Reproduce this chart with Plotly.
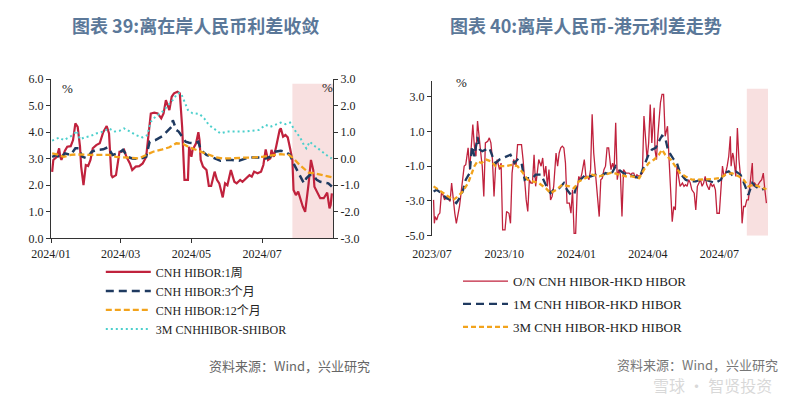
import plotly.graph_objects as go

# ---------------- Left chart data ----------------
l_1w_dates = ["2024-01-02","2024-01-03","2024-01-06","2024-01-08","2024-01-09","2024-01-10","2024-01-13","2024-01-15","2024-01-18","2024-01-20",
              "2024-01-22","2024-01-24","2024-01-26","2024-01-27","2024-01-29","2024-01-31","2024-02-02","2024-02-04","2024-02-06","2024-02-09",
              "2024-02-12","2024-02-15","2024-02-18","2024-02-20","2024-02-22","2024-02-23","2024-02-26","2024-02-28","2024-02-29","2024-03-02",
              "2024-03-04","2024-03-06","2024-03-09","2024-03-11","2024-03-14","2024-03-17","2024-03-20","2024-03-23","2024-03-25","2024-03-27",
              "2024-03-30","2024-04-02","2024-04-05","2024-04-07","2024-04-09","2024-04-12","2024-04-14","2024-04-16","2024-04-19","2024-04-21",
              "2024-04-23","2024-04-25","2024-04-28","2024-04-29","2024-05-01","2024-05-02","2024-05-05","2024-05-07","2024-05-08","2024-05-09",
              "2024-05-11","2024-05-14","2024-05-16","2024-05-18","2024-05-21","2024-05-23","2024-05-25","2024-05-28","2024-05-30","2024-06-01",
              "2024-06-04","2024-06-07","2024-06-09","2024-06-12","2024-06-14","2024-06-17","2024-06-20","2024-06-22","2024-06-24","2024-06-27",
              "2024-06-30","2024-07-02","2024-07-04","2024-07-06","2024-07-08","2024-07-09","2024-07-11","2024-07-13","2024-07-16","2024-07-17",
              "2024-07-19","2024-07-21","2024-07-23","2024-07-25","2024-07-27","2024-07-28","2024-07-30","2024-08-01","2024-08-03","2024-08-05",
              "2024-08-07","2024-08-09","2024-08-10","2024-08-12","2024-08-14","2024-08-15","2024-08-17","2024-08-20","2024-08-23","2024-08-26",
              "2024-08-28","2024-08-29","2024-08-30"]
l_1w_vals = [2.5,2.95,3.07,3.39,3.07,2.95,3.3,3.45,3.47,3.7,
             4.33,4.2,3.45,2.7,2.0,2.76,2.72,2.95,3.39,3.51,
             3.58,4.0,4.23,3.95,2.38,2.3,2.38,3.07,3.26,3.26,
             3.33,3.07,2.82,2.57,2.7,2.72,2.82,3.07,3.83,4.7,
             4.73,4.7,4.52,4.7,5.2,4.83,5.33,5.46,5.52,5.46,
             4.2,2.2,2.2,3.45,3.07,3.33,3.58,4.0,3.7,2.95,
             2.7,2.57,1.97,1.97,2.51,2.2,2.07,1.54,2.07,2.0,
             2.57,2.13,2.07,2.2,2.13,2.26,2.38,2.32,2.51,2.45,
             2.51,2.76,3.35,2.95,3.01,3.33,3.07,3.45,4.08,4.14,
             3.83,3.89,3.8,3.39,2.95,1.82,1.63,1.76,1.44,1.19,
             1.0,1.69,2.07,2.95,2.57,1.94,1.76,1.51,1.51,1.72,
             1.13,1.25,1.69]

l_3m_dates = ["2024-01-02","2024-01-06","2024-01-09","2024-01-13","2024-01-18","2024-01-22","2024-01-25","2024-01-28","2024-02-01","2024-02-05",
              "2024-02-09","2024-02-15","2024-02-19","2024-02-23","2024-02-28","2024-03-03","2024-03-07","2024-03-11","2024-03-17","2024-03-23",
              "2024-03-26","2024-03-31","2024-04-06","2024-04-10","2024-04-14","2024-04-15","2024-04-18","2024-04-20","2024-04-23","2024-04-26",
              "2024-04-29","2024-05-04","2024-05-07","2024-05-09","2024-05-14","2024-05-18","2024-05-22","2024-05-26","2024-05-31","2024-06-05",
              "2024-06-11","2024-06-17","2024-06-22","2024-06-28","2024-07-04","2024-07-08","2024-07-12","2024-07-17","2024-07-21","2024-07-25",
              "2024-07-28","2024-07-31","2024-08-03","2024-08-06","2024-08-08","2024-08-11","2024-08-14","2024-08-17","2024-08-20","2024-08-23",
              "2024-08-27","2024-08-30"]
l_3m_vals = [3.07,3.14,3.01,3.2,3.14,3.39,3.39,3.07,3.01,3.26,
             3.33,3.35,3.43,3.14,3.2,3.33,3.07,3.01,2.99,3.07,
             3.64,3.7,3.85,4.02,4.2,4.45,4.08,4.02,3.83,3.64,
             3.6,3.58,3.64,3.33,3.14,3.07,2.97,2.92,2.95,2.95,
             2.92,3.01,3.04,3.04,3.01,3.07,3.26,3.3,3.26,3.14,
             2.82,2.57,2.38,2.07,2.26,2.38,2.38,2.2,2.13,2.1,
             2.07,1.95]

l_12m_dates = ["2024-01-02","2024-01-06","2024-01-12","2024-01-18","2024-01-23","2024-01-29","2024-02-04","2024-02-12","2024-02-20","2024-02-26",
               "2024-03-03","2024-03-09","2024-03-17","2024-03-23","2024-03-29","2024-04-06","2024-04-12","2024-04-18","2024-04-24","2024-04-29",
               "2024-05-05","2024-05-11","2024-05-16","2024-05-22","2024-05-28","2024-06-05","2024-06-14","2024-06-22","2024-07-01","2024-07-10",
               "2024-07-17","2024-07-24","2024-07-28","2024-08-01","2024-08-06","2024-08-10","2024-08-15","2024-08-21","2024-08-27","2024-08-30"]
l_12m_vals = [3.2,3.16,3.07,3.14,3.16,3.14,3.14,3.14,3.14,3.07,
              3.05,3.01,3.01,3.14,3.26,3.35,3.43,3.58,3.55,3.43,
              3.33,3.26,3.16,3.05,3.01,3.01,3.04,3.04,3.07,3.14,
              3.17,3.14,3.01,2.82,2.63,2.47,2.45,2.38,2.32,2.3]

l_spr_dates = ["2024-01-02","2024-01-05","2024-01-08","2024-01-12","2024-01-16","2024-01-20","2024-01-23","2024-01-26","2024-01-30","2024-02-04",
               "2024-02-09","2024-02-15","2024-02-20","2024-02-25","2024-02-29","2024-03-04","2024-03-09","2024-03-14","2024-03-20","2024-03-24",
               "2024-03-27","2024-03-31","2024-04-06","2024-04-10","2024-04-15","2024-04-19","2024-04-22","2024-04-25","2024-04-28","2024-05-02",
               "2024-05-08","2024-05-12","2024-05-16","2024-05-22","2024-05-26","2024-06-01","2024-06-05","2024-06-11","2024-06-17","2024-06-22",
               "2024-06-28","2024-07-04","2024-07-08","2024-07-12","2024-07-17","2024-07-21","2024-07-25","2024-07-29","2024-08-03","2024-08-06",
               "2024-08-08","2024-08-11","2024-08-14","2024-08-18","2024-08-23","2024-08-27","2024-08-30"]
l_spr_vals = [0.68,0.73,0.79,0.70,0.80,0.89,1.05,0.73,0.80,0.85,
              0.95,1.02,1.14,1.02,1.05,1.14,1.02,0.89,0.80,0.89,
              1.39,1.58,1.77,1.96,2.21,2.46,2.46,2.15,1.83,1.71,
              1.68,1.52,1.27,1.08,0.95,1.02,1.02,1.02,1.02,1.05,
              1.08,1.27,1.20,1.27,1.36,1.30,1.36,1.08,0.77,0.51,
              0.39,0.64,0.51,0.39,0.20,0.08,0.01]

l_tick_vals = ["2024-01-01", "2024-03-01", "2024-05-01", "2024-07-01"]
l_tick_text = ["2024/01", "2024/03", "2024/05", "2024/07"]
l_y_ticks = [0, 1, 2, 3, 4, 5, 6]
l_y2_ticks = [-3, -2, -1, 0, 1, 2, 3]

# ---------------- Right chart data ----------------
r_on_dates = ["2023-07-03","2023-07-04","2023-07-05","2023-07-07","2023-07-09","2023-07-11","2023-07-13","2023-07-15","2023-07-17","2023-07-19",
              "2023-07-21","2023-07-24","2023-07-26","2023-07-28","2023-07-30","2023-08-01","2023-08-03","2023-08-05","2023-08-07","2023-08-09",
              "2023-08-11","2023-08-13","2023-08-16","2023-08-18","2023-08-20","2023-08-22","2023-08-24","2023-08-26","2023-08-28","2023-08-30",
              "2023-09-02","2023-09-03","2023-09-05","2023-09-07","2023-09-10","2023-09-12","2023-09-14","2023-09-16","2023-09-18","2023-09-20",
              "2023-09-22","2023-09-25","2023-09-27","2023-09-29","2023-10-02","2023-10-04","2023-10-07","2023-10-09","2023-10-11","2023-10-13",
              "2023-10-16","2023-10-18","2023-10-23","2023-10-25","2023-10-27","2023-10-29","2023-10-31","2023-11-02","2023-11-04","2023-11-06",
              "2023-11-08","2023-11-10","2023-11-12","2023-11-14","2023-11-17","2023-11-19","2023-11-21","2023-11-23","2023-11-25","2023-11-27",
              "2023-11-29","2023-12-01","2023-12-03","2023-12-06","2023-12-08","2023-12-10","2023-12-12","2023-12-14","2023-12-16","2023-12-18",
              "2023-12-20","2023-12-23","2023-12-25","2023-12-27","2023-12-29","2023-12-31","2024-01-02","2024-01-04","2024-01-06","2024-01-08",
              "2024-01-11","2024-01-13","2024-01-15","2024-01-17","2024-01-19","2024-01-21","2024-01-23","2024-01-25","2024-01-28","2024-01-30",
              "2024-02-01","2024-02-03","2024-02-05","2024-02-07","2024-02-09","2024-02-11","2024-02-14","2024-02-16","2024-02-18","2024-02-20",
              "2024-02-22","2024-02-24","2024-02-26","2024-02-28","2024-03-01","2024-03-04","2024-03-06","2024-03-08","2024-03-10","2024-03-12",
              "2024-03-14","2024-03-16","2024-03-18","2024-03-21","2024-03-23","2024-03-25","2024-03-27","2024-03-29","2024-03-31","2024-04-02",
              "2024-04-04","2024-04-06","2024-04-09","2024-04-10","2024-04-12","2024-04-13","2024-04-15","2024-04-17","2024-04-19","2024-04-21",
              "2024-04-23","2024-04-26","2024-04-28","2024-04-30","2024-05-02","2024-05-04","2024-05-06","2024-05-08","2024-05-10","2024-05-12",
              "2024-05-15","2024-05-17","2024-05-19","2024-05-21","2024-05-23","2024-05-25","2024-05-27","2024-05-30","2024-06-01","2024-06-03",
              "2024-06-05","2024-06-07","2024-06-09","2024-06-11","2024-06-13","2024-06-15","2024-06-18","2024-06-20","2024-06-22","2024-06-24",
              "2024-06-26","2024-06-28","2024-07-01","2024-07-03","2024-07-05","2024-07-07","2024-07-09","2024-07-11","2024-07-13","2024-07-15",
              "2024-07-16","2024-07-18","2024-07-19","2024-07-22","2024-07-24","2024-07-26","2024-07-28","2024-07-30","2024-08-01","2024-08-03",
              "2024-08-05","2024-08-07","2024-08-09","2024-08-12","2024-08-13","2024-08-15","2024-08-18","2024-08-20","2024-08-22","2024-08-24",
              "2024-08-26","2024-08-28","2024-08-30"]
r_on_vals = [-2.94,-4.29,-3.9,-4.1,-3.8,-3.7,-2.55,-2.65,-2.94,-2.75,
             -2.84,-3.03,-1.97,-2.94,-3.7,-4.29,-3.8,-3.32,-2.55,-1.59,
             -1.0,-0.91,0.05,-1.2,0.05,1.4,0.15,-0.43,1.59,0.53,
             -0.62,-1.0,-2.74,0.34,0.43,0.63,0.34,-0.62,-2.74,-1.0,
             -0.62,-1.2,-0.82,-4.67,-4.67,-3.61,-3.71,-4.29,-1.4,-0.62,
             -1.0,0.24,0.24,-0.62,-1.97,-2.94,-3.61,-1.78,-1.97,-1.97,
             -0.34,-2.16,-1.4,-0.62,-1.0,-0.53,-1.59,-1.0,-2.16,-1.2,
             -2.94,-2.74,-2.16,-0.24,-1.0,-0.24,0.05,0.15,0.05,-0.82,
             -3.13,-3.13,-3.71,-2.36,-4.87,-4.87,-2.36,-1.59,-1.78,-1.4,
             -0.62,-1.59,-1.59,-1.78,-1.2,1.98,-0.24,-1.2,-2.94,-3.9,
             -1.78,-1.69,-1.2,-1.0,0.05,0.05,-1.2,-0.82,-1.2,1.49,
             -1.78,-1.2,-1.49,-3.9,-1.2,-1.4,-1.4,-1.4,-1.49,-1.4,
             -1.4,-1.69,-1.49,-1.59,-1.49,-1.4,1.88,0.34,-0.62,0.34,
             2.55,0.34,2.36,-0.05,-0.62,0.34,1.3,2.65,3.13,3.13,
             0.72,1.3,-0.62,-2.55,-4.19,-3.32,-3.52,-1.0,-1.59,-2.16,
             -1.97,-2.16,-2.07,-2.16,-1.78,-1.97,-2.36,-2.55,-3.52,-2.16,
             -1.97,-1.78,-2.16,-1.97,-1.59,-2.07,-2.36,-1.97,-2.16,-2.07,
             -2.36,-3.71,-3.71,-2.55,-1.0,-1.59,-1.4,-1.0,-0.43,0.72,
             -1.0,-0.24,-0.43,-1.59,1.2,-0.62,-1.59,-4.29,-3.32,-3.32,
             -2.94,-2.94,-2.07,-0.82,-2.16,-1.97,-2.16,-1.97,-1.88,-1.78,
             -1.4,-2.36,-3.13]

r_1m_dates = ["2023-07-03","2023-07-07","2023-07-13","2023-07-19","2023-07-26","2023-08-01","2023-08-05","2023-08-09","2023-08-13","2023-08-18",
              "2023-08-21","2023-08-24","2023-08-28","2023-08-31","2023-09-03","2023-09-08","2023-09-12","2023-09-16","2023-09-20","2023-09-25",
              "2023-09-29","2023-10-03","2023-10-09","2023-10-14","2023-10-18","2023-10-23","2023-10-27","2023-10-31","2023-11-06","2023-11-10",
              "2023-11-17","2023-11-21","2023-11-25","2023-11-29","2023-12-03","2023-12-10","2023-12-16","2023-12-20","2023-12-25","2023-12-29",
              "2024-01-02","2024-01-06","2024-01-13","2024-01-19","2024-01-25","2024-02-01","2024-02-07","2024-02-14","2024-02-20","2024-02-24",
              "2024-03-01","2024-03-08","2024-03-14","2024-03-21","2024-03-27","2024-04-01","2024-04-06","2024-04-11","2024-04-15","2024-04-19",
              "2024-04-23","2024-04-26","2024-04-30","2024-05-04","2024-05-08","2024-05-12","2024-05-19","2024-05-25","2024-06-01","2024-06-07",
              "2024-06-13","2024-06-20","2024-06-26","2024-07-03","2024-07-07","2024-07-13","2024-07-17","2024-07-22","2024-07-28","2024-08-03",
              "2024-08-07","2024-08-12","2024-08-16","2024-08-20","2024-08-24","2024-08-28"]
r_1m_vals = [-2.46,-2.36,-2.55,-2.84,-2.94,-3.13,-2.84,-2.46,-1.78,-1.40,
             0.15,-0.43,0.68,-0.05,-0.14,-0.05,0.05,-0.43,-0.82,-0.62,
             -0.53,-0.43,-0.34,-0.82,-0.62,-0.82,-1.78,-1.69,-1.69,-1.49,
             -1.49,-1.88,-2.27,-2.55,-2.36,-2.27,-1.97,-2.36,-2.65,-2.65,
             -1.97,-1.78,-1.49,-1.59,-1.49,-1.59,-1.40,-1.49,-1.0,-1.20,
             -1.40,-1.49,-1.59,-1.69,-1.0,-0.43,-0.05,0.05,0.43,0.76,
             0.63,0.05,-0.34,-0.62,-0.82,-1.40,-1.78,-1.88,-1.88,-1.78,
             -1.78,-1.88,-1.97,-1.78,-1.40,-1.30,-1.49,-1.30,-1.49,-2.16,
             -2.65,-1.97,-2.16,-2.27,-2.36,-2.27]

r_3m_dates = ["2023-07-03","2023-07-09","2023-07-15","2023-07-21","2023-07-28","2023-08-03","2023-08-09","2023-08-16","2023-08-20","2023-08-24",
              "2023-08-28","2023-09-02","2023-09-08","2023-09-14","2023-09-20","2023-09-27","2023-10-03","2023-10-12","2023-10-18","2023-10-25",
              "2023-10-31","2023-11-06","2023-11-14","2023-11-23","2023-11-29","2023-12-06","2023-12-14","2023-12-23","2023-12-29","2024-01-04",
              "2024-01-13","2024-01-21","2024-01-30","2024-02-07","2024-02-16","2024-02-24","2024-03-04","2024-03-12","2024-03-21","2024-03-27",
              "2024-04-02","2024-04-09","2024-04-15","2024-04-19","2024-04-23","2024-04-30","2024-05-06","2024-05-12","2024-05-19","2024-05-27",
              "2024-06-05","2024-06-13","2024-06-22","2024-07-01","2024-07-09","2024-07-17","2024-07-26","2024-08-01","2024-08-07","2024-08-14",
              "2024-08-20","2024-08-26","2024-08-30"]
r_3m_vals = [-2.16,-2.36,-2.55,-2.74,-2.94,-2.74,-2.46,-1.97,-1.49,-1.0,
             -0.72,-0.82,-0.62,-0.72,-1.0,-1.0,-1.0,-0.91,-1.0,-1.40,
             -1.78,-1.88,-1.97,-2.27,-2.55,-2.36,-2.07,-2.16,-2.27,-1.88,
             -1.69,-1.49,-1.59,-1.49,-1.36,-1.49,-1.59,-1.59,-1.69,-1.20,
             -0.82,-0.62,-0.34,-0.05,-0.34,-0.62,-1.0,-1.40,-1.59,-1.78,
             -1.78,-1.78,-1.74,-1.69,-1.49,-1.40,-1.59,-1.78,-2.16,-2.07,
             -2.16,-2.27,-2.33]

r_tick_vals = ["2023-07-01", "2023-10-01", "2024-01-01", "2024-04-01", "2024-07-01"]
r_tick_text = ["2023/07", "2023/10", "2024/01", "2024/04", "2024/07"]
r_y_ticks = [-5, -3, -1, 1, 3]

# ---------------- Styling ----------------
RED = "#c0223d"
NAVY = "#1f3a60"
ORANGE = "#f2a31c"
CYAN = "#4ccfcc"
SERIF = "Liberation Serif, Times New Roman, Noto Sans CJK SC, serif"
AXC = "#333333"
TICKFONT = dict(family=SERIF, size=12, color="#222222")

fig = go.Figure()

fig.add_trace(go.Scatter(x=l_1w_dates, y=l_1w_vals, mode="lines", name="CNH HIBOR:1周",
                         line=dict(color=RED, width=2.2), xaxis="x", yaxis="y",
                         legend="legend", legendgroup="a"))
fig.add_trace(go.Scatter(x=l_3m_dates, y=l_3m_vals, mode="lines", name="CNH HIBOR:3个月",
                         line=dict(color=NAVY, width=2.5, dash="8px,5px"), xaxis="x", yaxis="y",
                         legend="legend", legendgroup="b"))
fig.add_trace(go.Scatter(x=l_12m_dates, y=l_12m_vals, mode="lines", name="CNH HIBOR:12个月",
                         line=dict(color=ORANGE, width=2.3, dash="6px,3px"), xaxis="x", yaxis="y",
                         legend="legend", legendgroup="c"))
fig.add_trace(go.Scatter(x=l_spr_dates, y=l_spr_vals, mode="lines", name="3M CNHHIBOR-SHIBOR",
                         line=dict(color=CYAN, width=2, dash="2px,3px"), xaxis="x", yaxis="y2",
                         legend="legend", legendgroup="d"))

fig.add_trace(go.Scatter(x=r_on_dates, y=r_on_vals, mode="lines", name="O/N CNH HIBOR-HKD HIBOR",
                         line=dict(color=RED, width=1.3), xaxis="x2", yaxis="y3",
                         legend="legend2", legendgroup="e"))
fig.add_trace(go.Scatter(x=r_1m_dates, y=r_1m_vals, mode="lines", name="1M CNH HIBOR-HKD HIBOR",
                         line=dict(color=NAVY, width=2.3, dash="8px,5px"), xaxis="x2", yaxis="y3",
                         legend="legend2", legendgroup="f"))
fig.add_trace(go.Scatter(x=r_3m_dates, y=r_3m_vals, mode="lines", name="3M CNH HIBOR-HKD HIBOR",
                         line=dict(color=ORANGE, width=2.3, dash="5px,3px"), xaxis="x2", yaxis="y3",
                         legend="legend2", legendgroup="g"))

axis_common = dict(showgrid=False, zeroline=False, tickfont=TICKFONT, linecolor=AXC,
                   linewidth=1, tickcolor=AXC, ticklen=4, fixedrange=True, automargin=False)

fig.update_layout(
    width=800, height=396,
    margin=dict(l=0, r=0, t=0, b=0, autoexpand=False),
    paper_bgcolor="white", plot_bgcolor="white",
    xaxis=dict(domain=[0.06375, 0.41625], anchor="y", type="date",
               range=["2024-01-01", "2024-08-31"], tickmode="array",
               tickvals=l_tick_vals, ticktext=l_tick_text,
               ticks="outside", showline=True, **axis_common),
    yaxis=dict(domain=[0.3982, 0.8005], anchor="x", range=[0, 6], tickmode="array",
               tickvals=l_y_ticks, ticktext=[f"{v:.1f}" for v in l_y_ticks],
               ticks="outside", showline=True, **axis_common),
    yaxis2=dict(overlaying="y", side="right", anchor="x", range=[-3, 3], tickmode="array",
                tickvals=l_y2_ticks, ticktext=[f"{v:.1f}" for v in l_y2_ticks],
                ticks="outside", showline=True, **axis_common),
    xaxis2=dict(domain=[0.54, 0.96], anchor="y3", type="date",
                range=["2023-07-01", "2024-09-01"], tickmode="array",
                tickvals=r_tick_vals, ticktext=r_tick_text,
                ticks="outside", showline=False, ticklabelstandoff=3,
                **{**axis_common, "tickcolor": "rgba(0,0,0,0)"}),
    xaxis3=dict(overlaying="x2", anchor="free", position=0.6232, type="date",
                range=["2023-07-01", "2024-09-01"], tickmode="array",
                tickvals=r_tick_vals, showticklabels=False, automargin=False,
                ticks="inside", showline=True, showgrid=False, zeroline=False,
                linecolor="#444444", linewidth=1.3, tickcolor="#444444", ticklen=3),
    yaxis3=dict(domain=[0.4048, 0.7955], anchor="x2", range=[-5, 3.9], tickmode="array",
                tickvals=r_y_ticks, ticktext=[f"{v:.1f}" for v in r_y_ticks],
                ticks="outside", showline=True, **axis_common),
    legend=dict(x=0.126, y=0.350, xanchor="left", yanchor="top", bgcolor="rgba(0,0,0,0)",
                font=dict(family=SERIF, size=12, color="#222222"), tracegroupgap=0,
                itemwidth=45, traceorder="normal"),
    legend2=dict(x=0.5725, y=0.328, xanchor="left", yanchor="top", bgcolor="rgba(0,0,0,0)",
                 font=dict(family=SERIF, size=13, color="#222222"), tracegroupgap=3,
                 itemwidth=45, traceorder="grouped"),
    showlegend=True,
)

shade = "#f8e0e0"
fig.add_shape(type="rect", xref="x", yref="y", x0="2024-07-27", x1="2024-08-31", y0=0, y1=5.82,
              fillcolor=shade, line=dict(width=0), layer="below")
fig.add_shape(type="rect", xref="x2", yref="y3", x0="2024-08-05", x1="2024-09-01", y0=-5, y1=3.46,
              fillcolor=shade, line=dict(width=0), layer="below")

TITLE_FONT = dict(family="Noto Sans CJK SC, sans-serif", size=18, color="#5b7899", weight="bold")
ann = [
    dict(text="图表 39:离在岸人民币利差收敛", x=195, y=25, font=TITLE_FONT),
    dict(text="图表 40:离岸人民币-港元利差走势", x=586, y=25, font=TITLE_FONT),
    dict(text="%", x=67, y=89, font=dict(family=SERIF, size=13, color="#222")),
    dict(text="%", x=327, y=87, font=dict(family=SERIF, size=13, color="#222")),
    dict(text="%", x=461, y=83, font=dict(family=SERIF, size=13, color="#222")),
    dict(text="资料来源：Wind，兴业研究", x=289, y=365,
         font=dict(family="Noto Sans CJK SC, sans-serif", size=13, color="#666666")),
    dict(text="资料来源：Wind，兴业研究", x=697, y=364,
         font=dict(family="Noto Sans CJK SC, sans-serif", size=13, color="#777777")),
    dict(text="雪球 · 智贤投资", x=712, y=385,
         font=dict(family="Noto Sans CJK SC, sans-serif", size=16, color="rgba(190,190,190,0.6)")),
]
for a in ann:
    fig.add_annotation(text=a["text"], x=a["x"] / 800, y=1 - a["y"] / 396, xref="paper", yref="paper",
                       showarrow=False, xanchor="center", yanchor="middle", font=a["font"])

fig.write_html("out.html", config={"displayModeBar": False},
               post_script="document.body.style.margin='0';")
